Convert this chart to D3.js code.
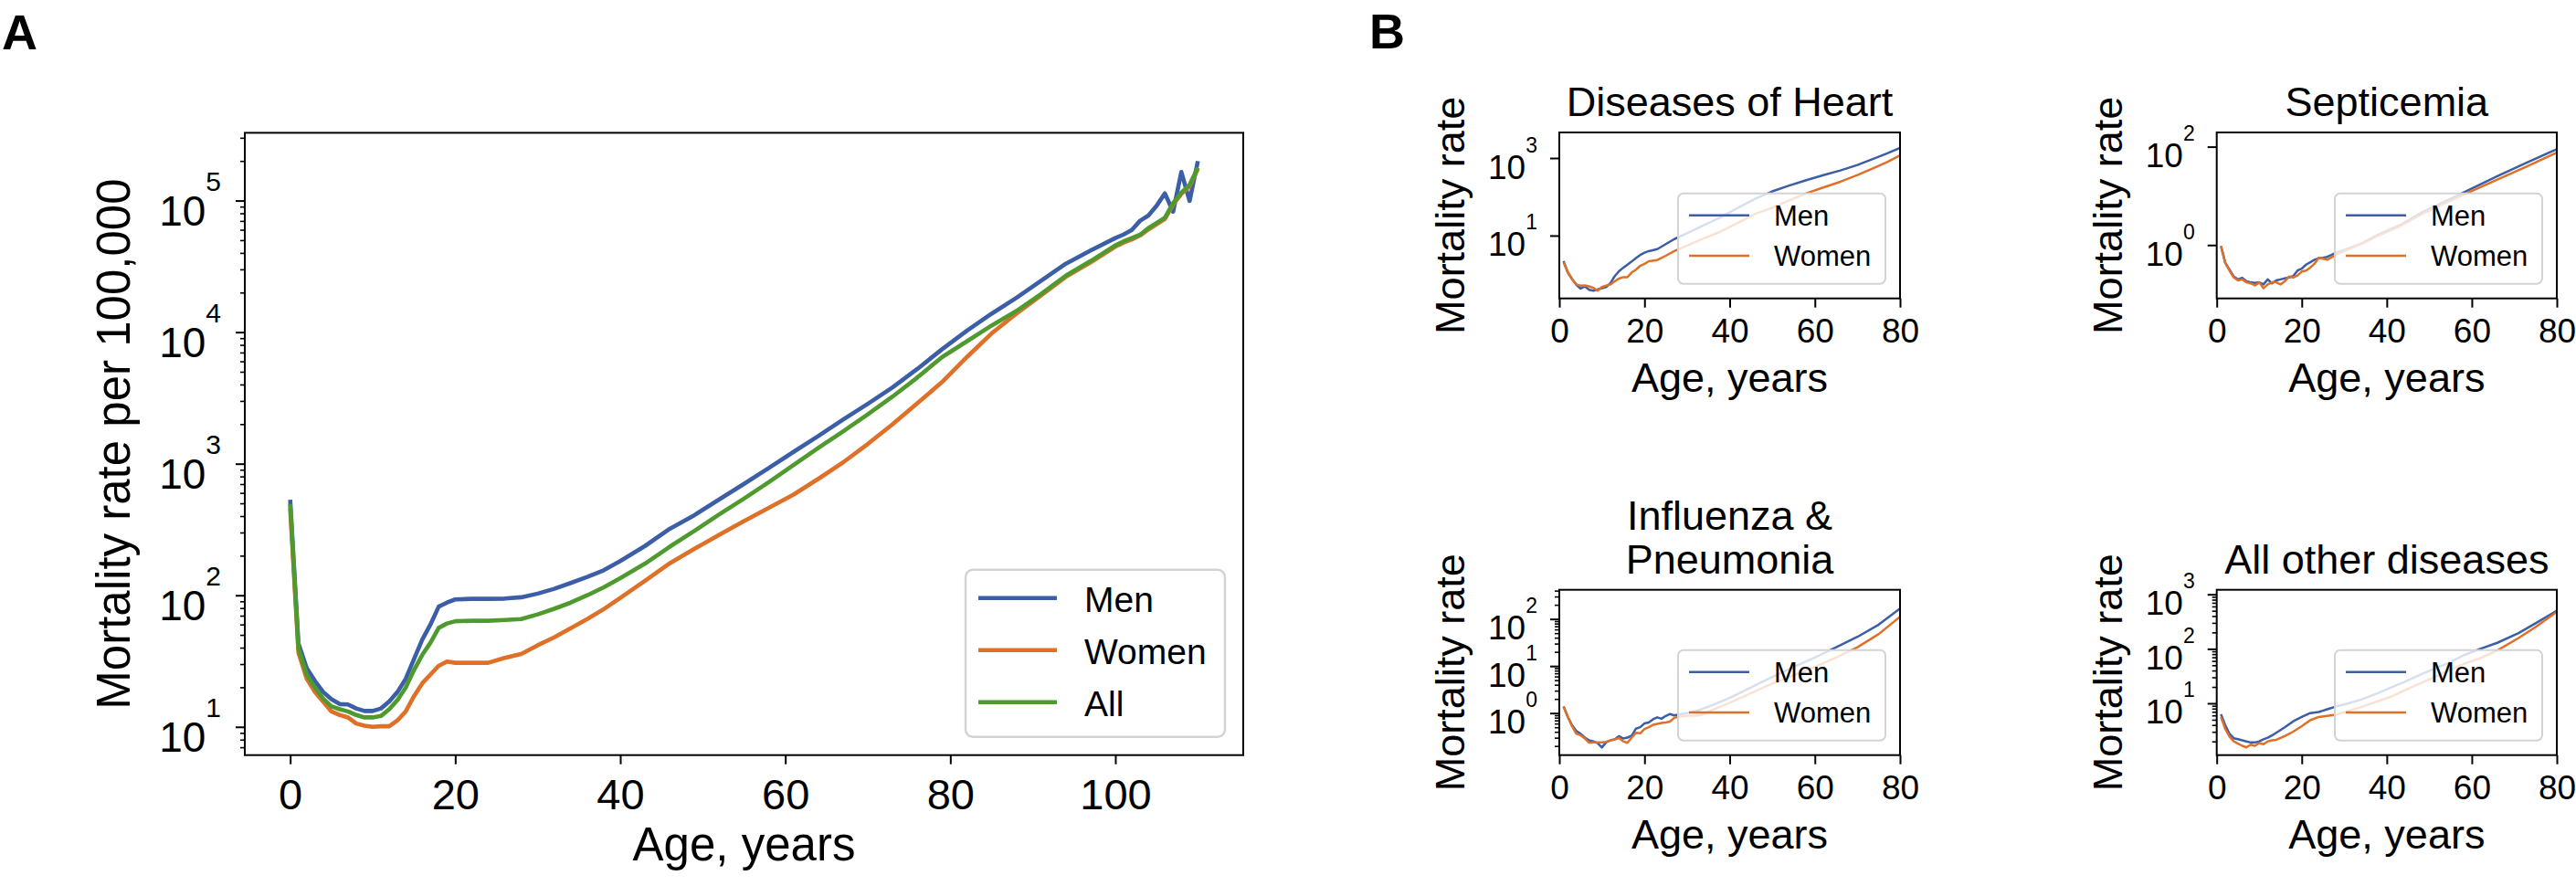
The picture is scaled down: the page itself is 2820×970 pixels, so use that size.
<!DOCTYPE html>
<html>
<head>
<meta charset="utf-8">
<script src="https://cdn.jsdelivr.net/npm/d3@7"></script>
<style>
  body { margin: 0; background: #fff; }
  svg text { font-family: "Liberation Sans", Arial, Helvetica, sans-serif; fill: #000; }
</style>
</head>
<body>
<svg id="fig" width="2820" height="970"></svg>
<script>
// ---- Panel A: all-cause mortality per 100,000 by age ----
const agesA = [0,1,2,3,4,5,6,7,8,9,10,11,12,13,14,15,16,17,18,19,20,22,24,26,28,30,32,34,36,38,40,43,46,49,52,55,58,61,64,67,70,73,76,79,82,85,88,91,94,97,100,101,102,103,104,105,106,107,108,109,110];
const menA = [532,43,28,22.3,18.4,16.2,14.9,14.8,13.8,13.2,13.2,13.8,15.6,18.4,23.2,32.7,46,60,82,88,93,94,94,94.4,96.6,103,112,124,138,155,182,237,320,407,535,703,927,1230,1622,2163,2851,3802,5248,7413,10233,13800,18197,24547,33113,41687,51880,55200,59840,70300,76900,91200,113500,82400,164800,99300,199500];
const womenA = [457,36.6,23.2,18.4,15.5,13.1,12.3,11.8,10.6,10.2,10.0,10.1,10.1,11.2,13.1,17.1,21.4,25,29.1,31.4,30.7,30.7,30.7,33.4,35.8,41.7,47.9,56.2,66,78.5,95.5,129,175,226,288,367,462,582,767,1023,1413,1995,2884,4169,6457,9772,13800,19050,26300,33900,44700,47900,50700,54300,60300,66100,72400,93300,112200,128800,173800];
const allA = [493,39.5,25,19.9,16.4,14.3,13.6,13.1,12.3,11.8,11.8,12.1,13.6,16,19.9,27,35.2,43.6,56.6,61,63.5,64,64,65,66,71.6,79,88,100,115,135,174,234,309,412,543,724,977,1318,1758,2371,3236,4519,6457,8510,11220,14454,19500,26900,34670,45700,49000,51900,55000,61700,67600,74100,95500,114800,131800,177800];
const xTicksA = [0,20,40,60,80,100];
const yTicksA = [1e1,1e2,1e3,1e4,1e5];
const xLimA = [-5.5, 115.5];
const yLimA = [6.1, 327300];

// ---- Panel B: cause-specific mortality ----
const causeTitles = [["Diseases of Heart"], ["Septicemia"], ["Influenza &", "Pneumonia"], ["All other diseases"]];

const heartAges = [1,2,3,4,5,6,7,8,9,10,11,12,13,14,15,16,17,18,19,20,21,23,25,27,30,34,38,42,46,50,54,58,62,66,70,74,77,80];
const heartMen = [2.19,1.12,0.76,0.54,0.43,0.49,0.40,0.38,0.41,0.44,0.47,0.60,0.89,1.20,1.48,1.78,2.14,2.63,3.16,3.63,3.98,4.47,6.03,8.13,11.5,18.6,30.2,52.5,89.1,138,195,269,363,479,661,977,1318,1820];
const heartWomen = [2.04,1.12,0.76,0.55,0.51,0.52,0.49,0.45,0.38,0.47,0.51,0.55,0.66,0.78,0.85,0.85,1.12,1.32,1.66,1.86,2.19,2.34,3.02,3.98,5.50,8.51,12.9,21.4,36.3,52.5,81.3,123,174,245,363,562,794,1175];

const septAges = [1,2,3,4,5,6,7,8,9,10,11,12,13,14,15,16,17,18,19,20,21,22,23,24,25,26,28,30,34,38,43,48,54,60,66,73,80];
const septMen = [0.955,0.437,0.316,0.229,0.200,0.214,0.182,0.174,0.170,0.174,0.158,0.200,0.166,0.191,0.200,0.209,0.219,0.234,0.302,0.331,0.398,0.447,0.501,0.537,0.550,0.575,0.692,0.794,1.07,1.62,2.51,4.47,7.94,14.1,25.1,47.9,89.1];
const septWomen = [0.955,0.437,0.302,0.219,0.191,0.200,0.174,0.166,0.151,0.174,0.132,0.158,0.174,0.174,0.158,0.182,0.229,0.219,0.240,0.288,0.302,0.347,0.417,0.550,0.525,0.501,0.631,0.759,1.05,1.55,2.40,4.17,7.24,12.6,21.4,39.8,75.9];

const fluAges = [1,2,3,4,5,6,7,8,9,10,11,12,13,14,15,16,17,18,19,20,21,22,23,24,25,26,27,28,30,33,36,40,44,48,52,56,60,65,70,75,80];
const fluMen = [1.38,0.832,0.550,0.417,0.363,0.302,0.263,0.251,0.229,0.186,0.240,0.263,0.275,0.324,0.288,0.302,0.331,0.468,0.501,0.603,0.631,0.741,0.813,0.759,0.871,0.955,0.891,0.933,1.0,1.17,1.48,2.09,3.16,4.79,7.08,10.5,15.1,25.1,41.7,75.9,166];
const fluWomen = [1.38,0.832,0.525,0.363,0.339,0.288,0.234,0.240,0.240,0.240,0.245,0.263,0.275,0.295,0.251,0.234,0.302,0.380,0.372,0.457,0.501,0.562,0.589,0.617,0.631,0.661,0.794,0.832,0.871,0.891,1.17,1.66,2.40,3.55,5.01,6.92,9.55,15.1,25.1,47.9,112];

const otherAges = [1,2,3,4,5,6,7,8,9,10,11,12,13,14,16,18,20,22,24,26,28,31,34,38,41,44,48,52,55,58,62,66,71,75,80];
const otherMen = [6.31,3.98,2.75,2.29,2.19,2.09,2.0,1.91,1.91,2.0,2.19,2.34,2.57,2.88,3.63,4.68,5.62,6.61,6.92,7.76,8.71,10.0,11.7,15.5,19.5,24.5,33.9,45.7,56.9,75.9,100,129,195,295,501];
const otherWomen = [5.62,3.39,2.45,2.0,1.82,1.66,1.55,1.74,1.66,1.86,1.78,2.0,2.09,2.14,2.51,3.02,3.80,4.90,5.62,5.89,6.17,7.24,8.51,11.0,13.2,17.0,23.4,32.4,41.7,52.5,67.6,93.3,158,251,479];

const xTicksB = [0,20,40,60,80];
const yLimB = [[0.24, 4570], [0.082, 195], [0.128, 417], [1.12, 1213]];
const yMajorB = [[10, 1000], [1, 100], [1, 10, 100], [10, 100, 1000]];
const yMinorB = [false, false, true, true];

const colors = { Men: "#3b5ea6", Women: "#df7027", All: "#4f9a2e" };

const svg = d3.select('#fig');
const defs = svg.append('defs');

function minorTicks(domain) {
  const out = [];
  const k0 = Math.floor(Math.log10(domain[0])), k1 = Math.ceil(Math.log10(domain[1]));
  for (let k = k0; k <= k1; k++) {
    for (let m = 2; m <= 9; m++) {
      const v = m * Math.pow(10, k);
      if (v >= domain[0] && v <= domain[1]) out.push(v);
    }
  }
  return out;
}

// log y axis with 10^n labels
function drawYAxis(g, y, majors, withMinor, o) {
  if (withMinor) {
    g.append('g')
      .call(d3.axisLeft(y).tickValues(minorTicks(y.domain())).tickSize(o.minorLen).tickFormat(''))
      .call(s => s.select('.domain').remove())
      .selectAll('line').attr('stroke-width', 1.6);
  }
  const ax = g.append('g')
    .call(d3.axisLeft(y).tickValues(majors).tickSize(10).tickPadding(o.pad).tickFormat(''))
    .call(s => s.select('.domain').remove());
  ax.selectAll('line').attr('stroke-width', 2);
  ax.selectAll('.tick text').each(function (d) {
    const t = d3.select(this).attr('dy', null).attr('y', o.base)
      .attr('font-size', o.size).attr('font-family', null);
    t.append('tspan').text('10');
    t.append('tspan').attr('dy', o.supDy).attr('font-size', o.supSize)
      .text(Math.round(Math.log10(d)));
  });
}

function drawXAxis(g, x, ticks, h, o) {
  const ax = g.append('g')
    .attr('transform', `translate(0,${h})`)
    .call(d3.axisBottom(x).tickValues(ticks).tickSize(10).tickPadding(o.pad).tickSizeOuter(0))
    .call(s => s.select('.domain').remove());
  ax.selectAll('line').attr('stroke-width', 2);
  ax.selectAll('text').attr('font-size', o.size).attr('font-family', null);
}

function drawLegend(g, items, box, o) {
  const lg = g.append('g');
  lg.append('rect')
    .attr('x', box.x).attr('y', box.y).attr('width', box.w).attr('height', box.h)
    .attr('rx', o.rx).attr('fill', '#fff').attr('fill-opacity', 0.8)
    .attr('stroke', '#d3d3d3').attr('stroke-width', o.border);
  items.forEach((name, i) => {
    const yy = box.y + o.first + i * o.step;
    lg.append('line')
      .attr('x1', box.x + o.l1).attr('x2', box.x + o.l2).attr('y1', yy).attr('y2', yy)
      .attr('stroke', colors[name]).attr('stroke-width', o.lw);
    lg.append('text')
      .attr('x', box.x + o.tx).attr('y', yy + o.base)
      .attr('font-size', o.size).text(name);
  });
}

// ---------------- Panel A ----------------
(function panelA() {
  const L = 268, R = 1361, T = 145.4, B = 826.7;
  const x = d3.scaleLinear().domain(xLimA).range([L, R]);
  const y = d3.scaleLog().domain(yLimA).range([B, T]);
  const g = svg.append('g');

  svg.append('text').attr('x', 2).attr('y', 54)
    .attr('font-size', 54).attr('font-weight', 'bold').text('A');

  drawYAxis(g.append('g').attr('transform', `translate(${L},0)`), y, yTicksA, true,
    { minorLen: 5, pad: 16, size: 46, base: 27, supDy: -38, supSize: 30 });
  drawXAxis(g, x, xTicksA, B, { pad: 16, size: 47 });

  defs.append('clipPath').attr('id', 'clipA')
    .append('rect').attr('x', L).attr('y', T).attr('width', R - L).attr('height', B - T);

  const line = d3.line().x(d => x(d[0])).y(d => y(d[1]));
  const series = [["Men", menA], ["Women", womenA], ["All", allA]];
  g.append('g').attr('clip-path', 'url(#clipA)')
    .selectAll('path').data(series).join('path')
    .attr('d', d => line(d3.zip(agesA, d[1])))
    .attr('fill', 'none').attr('stroke', d => colors[d[0]])
    .attr('stroke-width', 4.6).attr('stroke-linejoin', 'round');

  g.append('rect').attr('x', L).attr('y', T).attr('width', R - L).attr('height', B - T)
    .attr('fill', 'none').attr('stroke', '#000').attr('stroke-width', 2);

  drawLegend(g, ["Men", "Women", "All"], { x: R - 20 - 284, y: B - 20 - 183, w: 284, h: 183 },
    { rx: 8, border: 2.5, first: 31, step: 57, l1: 14, l2: 100, tx: 130, base: 15, size: 39, lw: 4.6 });

  g.append('text').attr('x', (L + R) / 2).attr('y', 942)
    .attr('text-anchor', 'middle').attr('font-size', 51).text('Age, years');
  g.append('text').attr('transform', `translate(142,${(T + B) / 2}) rotate(-90)`)
    .attr('text-anchor', 'middle').attr('font-size', 51).text('Mortality rate per 100,000');
})();

// ---------------- Panel B ----------------
svg.append('text').attr('x', 1499).attr('y', 53)
  .attr('font-size', 54).attr('font-weight', 'bold').text('B');

const causeData = [
  [heartAges, heartMen, heartWomen],
  [septAges, septMen, septWomen],
  [fluAges, fluMen, fluWomen],
  [otherAges, otherMen, otherWomen]
];
const boxes = [
  { L: 1707, R: 2080, T: 145, B: 326.7 },
  { L: 2426.7, R: 2799, T: 145, B: 326.7 },
  { L: 1707, R: 2080, T: 645.7, B: 826.7 },
  { L: 2426.7, R: 2799, T: 645.7, B: 826.7 }
];

causeData.forEach(([ages, men, women], i) => {
  const { L, R, T, B } = boxes[i];
  const x = d3.scaleLinear().domain([0, 80]).range([L, R]);
  const y = d3.scaleLog().domain(yLimB[i]).range([B, T]);
  const g = svg.append('g');

  drawYAxis(g.append('g').attr('transform', `translate(${L},0)`), y, yMajorB[i], yMinorB[i],
    { minorLen: 5, pad: 14, size: 37, base: 22, supDy: -29, supSize: 23 });
  drawXAxis(g, x, xTicksB, B, { pad: 12, size: 37 });

  defs.append('clipPath').attr('id', 'clipB' + i)
    .append('rect').attr('x', L).attr('y', T).attr('width', R - L).attr('height', B - T);

  const line = d3.line().x(d => x(d[0])).y(d => y(d[1]));
  g.append('g').attr('clip-path', `url(#clipB${i})`)
    .selectAll('path').data([["Men", men], ["Women", women]]).join('path')
    .attr('d', d => line(d3.zip(ages, d[1])))
    .attr('fill', 'none').attr('stroke', d => colors[d[0]])
    .attr('stroke-width', 2.5).attr('stroke-linejoin', 'round');

  g.append('rect').attr('x', L).attr('y', T).attr('width', R - L).attr('height', B - T)
    .attr('fill', 'none').attr('stroke', '#000').attr('stroke-width', 2);

  drawLegend(g, ["Men", "Women"], { x: R - 16 - 227, y: B - 16 - 99, w: 227, h: 99 },
    { rx: 6, border: 2, first: 24, step: 44.3, l1: 12, l2: 78, tx: 105, base: 11, size: 31, lw: 2.5 });

  const title = causeTitles[i];
  title.forEach((t, k) => {
    g.append('text').attr('x', (L + R) / 2).attr('y', T - 18 - (title.length - 1 - k) * 47.7)
      .attr('text-anchor', 'middle').attr('font-size', 45).text(t);
  });
  g.append('text').attr('x', (L + R) / 2).attr('y', B + 102)
    .attr('text-anchor', 'middle').attr('font-size', 45).text('Age, years');
  g.append('text').attr('transform', `translate(${L - 104},${(T + B) / 2}) rotate(-90)`)
    .attr('text-anchor', 'middle').attr('font-size', 45).text('Mortality rate');
});
</script>
</body>
</html>
